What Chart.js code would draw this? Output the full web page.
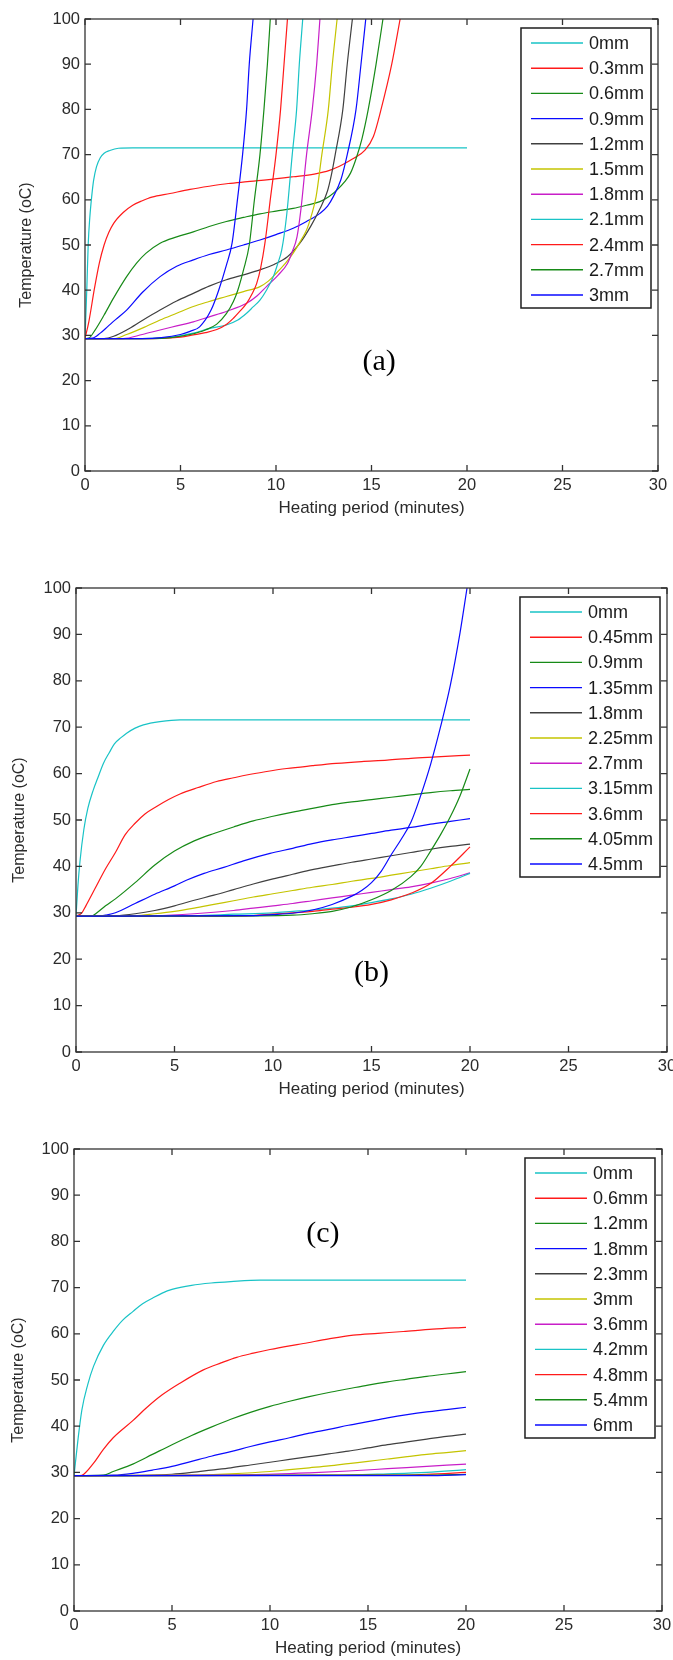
<!DOCTYPE html>
<html>
<head>
<meta charset="utf-8">
<script src="https://cdn.jsdelivr.net/npm/chart.js@4.4.1/dist/chart.umd.min.js"></script>
<style>
  html, body { margin: 0; padding: 0; background: #fff; }
  body { width: 673px; height: 1660px; position: relative; overflow: hidden; }
  canvas { position: absolute; left: 0; }
</style>
</head>
<body>
<canvas id="chartA" width="673" height="512" style="top:9px"></canvas>
<canvas id="chartB" width="673" height="524" style="top:578px"></canvas>
<canvas id="chartC" width="673" height="522" style="top:1139px"></canvas>
<script>
// Axis ticks shared by all three panels
const xTicks = [0, 5, 10, 15, 20, 25, 30];
const yTicks = [0, 10, 20, 30, 40, 50, 60, 70, 80, 90, 100];

// Panel (a) - thickness series, [minutes, temperature]
const labelsA = ['0mm', '0.3mm', '0.6mm', '0.9mm', '1.2mm', '1.5mm', '1.8mm', '2.1mm', '2.4mm', '2.7mm', '3mm'];
const a00 = [[0,29.3],[0.05,35],[0.1,41],[0.17,50.4],[0.25,56],[0.35,60.7],[0.45,64.3],[0.6,67.3],[0.8,69.3],[1,70.3],[1.3,70.9],[1.75,71.4],[2.5,71.5],[20,71.5]];
const a03 = [[0,29.3],[0.2,33],[0.5,40.5],[0.75,46],[1,50],[1.25,52.8],[1.5,54.8],[2,57.2],[2.5,58.8],[3,59.8],[3.5,60.6],[4.45,61.4],[5.5,62.3],[6.5,63],[7.5,63.6],[8.5,64],[9.5,64.4],[10.9,65.1],[12,65.7],[12.8,66.5],[13.5,67.8],[14,69],[14.66,71],[15.1,74],[15.5,80],[16.06,90],[16.5,100]];
const a06 = [[0,29.3],[0.2,29.4],[0.5,31],[1,34.5],[1.5,38.3],[2.18,43],[2.7,46],[3.2,48.2],[3.93,50.4],[4.8,51.8],[5.67,52.9],[6.5,54.1],[7.4,55.2],[8.3,56.1],[9.16,56.9],[10,57.5],[10.9,58.1],[11.6,58.8],[12.3,59.6],[12.8,60.8],[13.2,62.2],[13.6,64],[13.9,65.9],[14.2,69.2],[14.5,73.5],[14.83,80],[15.24,90],[15.6,100]];
const a09 = [[0,29.3],[0.4,29.4],[0.8,30.5],[1.2,32],[1.6,33.5],[2.18,35.6],[3,39.5],[3.93,43],[4.8,45.3],[5.67,46.7],[6.5,47.9],[7.4,48.9],[8.3,50],[9.16,51.1],[10,52.3],[10.9,53.7],[11.6,55.2],[12.3,57],[12.7,58.6],[13,60.7],[13.4,64.5],[13.73,70],[14.19,80],[14.45,90],[14.7,100]];
const a12 = [[0,29.3],[1,29.3],[1.5,29.8],[2.18,31.2],[3,33.3],[3.93,35.6],[4.8,37.6],[5.67,39.3],[6.5,40.9],[7.4,42.3],[8.3,43.4],[9.16,44.5],[9.9,45.7],[10.6,47.4],[11.25,50.4],[11.8,54],[12.3,58],[12.7,62],[12.9,65.5],[13.1,70],[13.5,80],[13.73,90],[14,100]];
const a15 = [[0,29.3],[1.5,29.3],[2.18,30.2],[3,31.6],[3.93,33.4],[4.8,34.9],[5.67,36.4],[6.5,37.5],[7.4,38.6],[8.3,39.7],[9.16,40.8],[9.6,42],[10,43.7],[10.5,46],[10.9,48.2],[11.3,51],[11.6,53.3],[11.85,56.5],[12.1,60.7],[12.4,70],[12.74,80],[12.95,90],[13.2,100]];
const a18 = [[0,29.3],[2,29.3],[3,30.2],[3.93,31.2],[4.8,32.1],[5.67,33],[6.5,34.1],[7.4,35.3],[8.46,37.1],[9,38.7],[9.5,40.8],[10.1,43.3],[10.6,45.9],[10.85,48.5],[11.1,51.8],[11.3,57.7],[11.6,70],[11.9,80],[12.13,90],[12.3,100]];
const a21 = [[0,29.3],[3,29.3],[4.5,29.6],[5.67,30.5],[6.5,31.5],[7.4,32.3],[8,33.4],[8.46,34.9],[8.8,36.3],[9.16,37.8],[9.5,40],[9.86,43],[10.1,46],[10.3,48.9],[10.55,56.3],[10.85,70],[11.08,80],[11.22,90],[11.4,100]];
const a24 = [[0,29.3],[3.5,29.3],[5,29.6],[5.67,30.1],[6.3,30.6],[6.9,31.3],[7.4,32.4],[7.77,33.8],[8.1,35.3],[8.46,37.1],[8.75,39.2],[8.99,41.5],[9.2,45],[9.42,50.4],[9.72,60.7],[10,70],[10.24,80],[10.42,90],[10.6,100]];
const a27 = [[0,29.3],[3.5,29.3],[4.5,29.5],[5.5,30.2],[6.3,31.2],[6.9,32.5],[7.4,34.8],[7.77,37.5],[8,40],[8.3,44.5],[8.6,50],[8.87,60],[9.16,70],[9.37,80],[9.55,90],[9.7,100]];
const a30 = [[0,29.3],[3,29.3],[4,29.5],[5,30.2],[5.5,30.9],[6,31.9],[6.6,35.6],[7,40],[7.4,45.5],[7.7,50.4],[8,60.7],[8.25,70],[8.46,80],[8.6,90],[8.8,100]];

// Panel (b)
const labelsB = ['0mm', '0.45mm', '0.9mm', '1.35mm', '1.8mm', '2.25mm', '2.7mm', '3.15mm', '3.6mm', '4.05mm', '4.5mm'];
const b00 = [[0,29.3],[0.1,36],[0.2,41],[0.4,48],[0.6,52.5],[0.88,56.5],[1.1,59],[1.39,62.2],[1.7,64.6],[1.95,66.4],[2.3,67.8],[2.57,68.7],[3,69.8],[3.42,70.5],[4.26,71.2],[5.28,71.6],[20,71.6]];
const b045 = [[0,29.3],[0.3,30],[0.5,31.5],[1,35.5],[1.5,39.5],[2,43],[2.49,46.8],[3,49.3],[3.5,51.3],[4.09,52.9],[4.7,54.4],[5.28,55.6],[6.2,57],[7.14,58.3],[8,59.1],[8.66,59.7],[9.6,60.4],[10.7,61.1],[12,61.7],[13.2,62.2],[14.5,62.6],[15.8,62.9],[17,63.3],[18.3,63.6],[20,64]];
const b09 = [[0,29.3],[0.8,29.3],[1,29.8],[1.5,31.5],[2,33],[3,36.5],[4,40.3],[5,43.3],[6,45.5],[7,47.1],[8,48.5],[9,49.8],[10,50.8],[11,51.7],[12,52.5],[13,53.3],[14,53.9],[15,54.4],[16,54.9],[17,55.4],[18,55.9],[19,56.3],[20,56.6]];
const b135 = [[0,29.3],[1.2,29.3],[1.5,29.5],[2,30],[3,32],[4,34],[5,35.8],[5.6,37],[6.5,38.5],[7.5,39.8],[8.5,41.2],[9.85,42.8],[11,43.9],[12,44.9],[13,45.7],[14,46.4],[15,47.1],[16,47.8],[17,48.4],[18,49.1],[19,49.7],[20,50.3]];
const b18 = [[0,29.3],[2,29.4],[3,29.8],[4,30.5],[5,31.5],[6,32.7],[7,33.8],[8,35],[9,36.2],[10,37.3],[11,38.3],[12,39.3],[13,40.1],[14,40.9],[15,41.6],[16,42.3],[17,43],[18,43.7],[19,44.3],[20,44.8]];
const b225 = [[0,29.3],[3,29.4],[4,29.8],[5,30.3],[6,31],[7,31.8],[8,32.6],[9,33.4],[10,34.1],[11,34.8],[12,35.5],[13,36.1],[14,36.8],[15,37.4],[16,38.1],[17,38.8],[18,39.5],[19,40.2],[20,40.8]];
const b27 = [[0,29.3],[4,29.4],[6,29.8],[8,30.5],[9,31],[10,31.5],[11,32],[12,32.6],[13,33.2],[14,33.8],[15,34.4],[16,35],[17,35.6],[18,36.4],[19,37.4],[20,38.6]];
const b315 = [[0,29.3],[6,29.4],[8,29.7],[10,30],[11,30.3],[12,30.6],[13,31],[14,31.5],[15,32.2],[16,33],[17,34],[18,35.3],[19,36.8],[20,38.5]];
const b36 = [[0,29.3],[7,29.3],[9,29.4],[10,29.7],[11,30],[12,30.3],[13,30.8],[14,31.2],[15,31.8],[16,32.8],[17,34.2],[18,36.3],[19,40],[20,44.2]];
const b405 = [[0,29.3],[7,29.3],[11,29.5],[12,29.8],[13,30.3],[14,31.3],[15,32.8],[16,34.8],[17,37.8],[17.5,40],[18,43.3],[18.5,46.8],[19,50.7],[19.5,55.3],[20,61]];
const b45 = [[0,29.3],[9,29.4],[10,29.6],[11,29.9],[12,30.6],[13,31.8],[14,33.6],[14.5,34.8],[15,36.5],[15.5,39],[16,42.5],[16.5,45.8],[17,49.5],[17.5,55.3],[18,62],[18.5,70],[19,79],[19.5,90.5],[19.85,100],[20,104]];

// Panel (c)
const labelsC = ['0mm', '0.6mm', '1.2mm', '1.8mm', '2.3mm', '3mm', '3.6mm', '4.2mm', '4.8mm', '5.4mm', '6mm'];
const c00 = [[0,29.3],[0.2,37],[0.4,43.5],[0.7,49],[1,53],[1.5,57.5],[2,60.5],[2.5,63],[3,64.8],[3.5,66.5],[4,67.7],[4.5,68.8],[5,69.6],[6,70.5],[7,71],[8,71.3],[9.5,71.6],[20,71.6]];
const c06 = [[0,29.3],[0.3,29.3],[0.5,29.6],[1,32],[1.5,35],[2,37.5],[3,41.2],[3.7,44],[4.5,46.8],[5.4,49.3],[6.6,52.2],[7.5,53.7],[8.3,54.9],[9.15,55.8],[10,56.6],[11,57.4],[11.7,57.9],[13,58.9],[14.25,59.7],[15.5,60.1],[16.8,60.5],[18.3,61],[20,61.4]];
const c12 = [[0,29.3],[1.5,29.4],[2,30.2],[3,31.8],[4,33.9],[5,36],[6,38],[7,39.8],[8,41.5],[9,43],[10,44.3],[11,45.4],[12,46.4],[13,47.3],[14,48.1],[15,48.9],[16,49.6],[17,50.2],[18,50.8],[19,51.3],[20,51.8]];
const c18 = [[0,29.3],[2,29.4],[3,29.8],[4,30.5],[5,31.3],[6,32.4],[7,33.5],[8,34.5],[9,35.6],[10,36.6],[11,37.5],[12,38.5],[13,39.3],[14,40.2],[15,41],[16,41.8],[17,42.5],[18,43.1],[19,43.6],[20,44.1]];
const c23 = [[0,29.3],[4,29.4],[5,29.6],[6,30],[7,30.5],[8,31],[9,31.6],[10,32.2],[11,32.8],[12,33.4],[13,34],[14,34.6],[15,35.3],[16,36],[17,36.6],[18,37.2],[19,37.8],[20,38.3]];
const c30 = [[0,29.3],[6,29.4],[8,29.7],[10,30.2],[11,30.6],[12,31],[13,31.4],[14,31.9],[15,32.4],[16,32.9],[17,33.4],[18,33.9],[19,34.3],[20,34.7]];
const c36 = [[0,29.3],[9,29.5],[12,29.9],[14,30.3],[16,30.8],[18,31.3],[20,31.8]];
const c42 = [[0,29.3],[13,29.4],[16,29.7],[18,30],[20,30.6]];
const c48 = [[0,29.3],[16,29.4],[18,29.6],[20,30]];
const c54 = [[0,29.3],[18,29.4],[20,29.6]];
const c60 = [[0,29.3],[18,29.3],[20,29.5]];

// MATLAB default colour cycle
const lineColors = ['#19c3c6', '#ff1a1a', '#178a17', '#0a0aff', '#404040', '#c4c400', '#c81ec8'];

const FONT = '"Liberation Sans", Arial, sans-serif';
const TEXT = '#2b2b2b';

// box frame with inward ticks on all four sides
const axesFrame = {
  id: 'axesFrame',
  afterDatasetsDraw(chart) {
    const { ctx, chartArea: a, scales: { x, y } } = chart;
    ctx.save();
    ctx.strokeStyle = '#333';
    ctx.lineWidth = 1.3;
    ctx.beginPath();
    x.ticks.forEach(t => {
      const px = x.getPixelForValue(t.value);
      ctx.moveTo(px, a.bottom); ctx.lineTo(px, a.bottom - 6);
      ctx.moveTo(px, a.top); ctx.lineTo(px, a.top + 6);
    });
    y.ticks.forEach(t => {
      const py = y.getPixelForValue(t.value);
      ctx.moveTo(a.left, py); ctx.lineTo(a.left + 6, py);
      ctx.moveTo(a.right, py); ctx.lineTo(a.right - 6, py);
    });
    ctx.stroke();
    ctx.strokeRect(a.left, a.top, a.right - a.left, a.bottom - a.top);
    ctx.restore();
  }
};

// legend box in the upper right corner of the plot area
const boxLegend = {
  id: 'boxLegend',
  afterDraw(chart) {
    const { ctx, chartArea: a } = chart;
    const sets = chart.data.datasets;
    ctx.save();
    ctx.font = '18px ' + FONT;
    const textW = Math.max(...sets.map(d => ctx.measureText(d.label).width));
    const rowH = 25.2;
    const w = 68 + textW + 7;
    const h = 15 + (sets.length - 1) * rowH + 13;
    const left = a.right - 7 - w, top = a.top + 9;
    ctx.fillStyle = '#fff';
    ctx.fillRect(left, top, w, h);
    ctx.strokeStyle = '#1e1e1e';
    ctx.lineWidth = 1.5;
    ctx.strokeRect(left, top, w, h);
    ctx.textAlign = 'left';
    ctx.textBaseline = 'middle';
    sets.forEach((d, i) => {
      const yy = top + 15 + i * rowH;
      ctx.strokeStyle = d.borderColor;
      ctx.lineWidth = 1.4;
      ctx.beginPath();
      ctx.moveTo(left + 10, yy);
      ctx.lineTo(left + 62, yy);
      ctx.stroke();
      ctx.fillStyle = '#1a1a1a';
      ctx.fillText(d.label, left + 68, yy + 1);
    });
    ctx.restore();
  }
};

// "(a)", "(b)", "(c)" tags placed in data coordinates
const panelTag = {
  id: 'panelTag',
  afterDraw(chart, args, opts) {
    if (!opts.text) return;
    const { ctx, scales: { x, y } } = chart;
    ctx.save();
    ctx.font = '30px "Liberation Serif", "Times New Roman", serif';
    ctx.fillStyle = '#000';
    ctx.textAlign = 'center';
    ctx.textBaseline = 'middle';
    ctx.fillText(opts.text, x.getPixelForValue(opts.x), y.getPixelForValue(opts.y));
    ctx.restore();
  }
};

const buildDatasets = (labels, series) => labels.map((label, i) => ({
  label,
  data: series[i].map(([x, y]) => ({ x, y })),
  borderColor: lineColors[i % lineColors.length],
  backgroundColor: lineColors[i % lineColors.length],
  borderWidth: 1.2,
  pointRadius: 0,
  fill: false,
  cubicInterpolationMode: 'monotone',
  order: labels.length - i
}));

const makeChart = (id, labels, series, pad, tag) => new Chart(document.getElementById(id), {
  type: 'line',
  data: { datasets: buildDatasets(labels, series) },
  options: {
    responsive: false,
    animation: false,
    devicePixelRatio: 1,
    layout: { padding: { left: pad.left, right: pad.right, top: 10, bottom: 0 } },
    plugins: {
      legend: { display: false },
      tooltip: { enabled: false },
      panelTag: tag
    },
    scales: {
      x: {
        type: 'linear', min: 0, max: 30,
        afterBuildTicks: s => { s.ticks = xTicks.map(v => ({ value: v })); },
        grid: { display: false, drawTicks: false },
        border: { display: false },
        ticks: { color: TEXT, font: { family: FONT, size: 16.5 }, padding: 5, maxRotation: 0, autoSkip: false },
        title: { display: true, text: 'Heating period (minutes)', color: TEXT, font: { family: FONT, size: 17 }, padding: { top: 0, bottom: 2 } },
        afterFit: s => { s.height = 50; s.paddingLeft = 0; s.paddingRight = 0; }
      },
      y: {
        type: 'linear', min: 0, max: 100,
        afterBuildTicks: s => { s.ticks = yTicks.map(v => ({ value: v })); },
        grid: { display: false, drawTicks: false },
        border: { display: false },
        ticks: { color: TEXT, font: { family: FONT, size: 16.5 }, padding: 5, autoSkip: false },
        title: { display: true, text: 'Temperature (oC)', color: TEXT, font: { family: FONT, size: 16 }, padding: { top: pad.title, bottom: 0 } },
        afterFit: s => { s.width = 71; s.paddingTop = 0; s.paddingBottom = 0; }
      }
    }
  },
  plugins: [axesFrame, boxLegend, panelTag]
});

makeChart('chartA', labelsA, [a00, a03, a06, a09, a12, a15, a18, a21, a24, a27, a30],
  { left: 14, right: 15, title: 3 }, { text: '(a)', x: 15.4, y: 24 });
makeChart('chartB', labelsB, [b00, b045, b09, b135, b18, b225, b27, b315, b36, b405, b45],
  { left: 5, right: 6, title: 5 }, { text: '(b)', x: 15, y: 17 });
makeChart('chartC', labelsC, [c00, c06, c12, c18, c23, c30, c36, c42, c48, c54, c60],
  { left: 3, right: 11, title: 6 }, { text: '(c)', x: 12.7, y: 81.5 });
</script>
</body>
</html>
